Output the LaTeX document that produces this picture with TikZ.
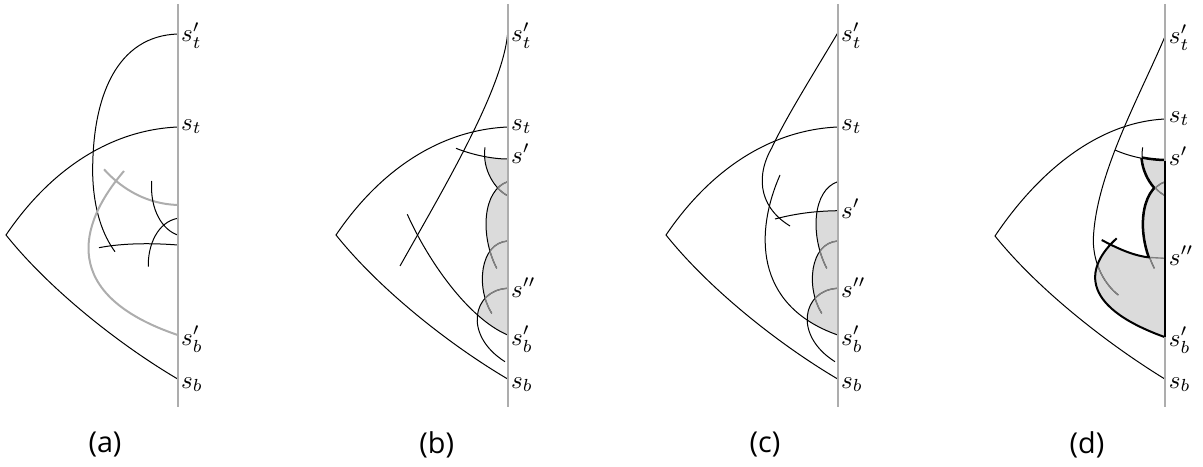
\documentclass[tikz,border=0pt]{standalone}
\usepackage{fontspec}
\newfontfamily\capfont{Open Sans}

% lobes shared by panels (b), (c) and (d), axis at x=0
\newcommand{\lobeA}{(-22.7,147.3) .. controls (-26,170) and (-12,190) .. (0,195.7)}
\newcommand{\lobeB}{(0,181.7) .. controls (-25,190) and (-28,235) .. (-11,268.3)}
\newcommand{\lobeC}{(0,241) .. controls (-28,243) and (-32,288) .. (-16,313.3)}
\newcommand{\lobeD}{(0,288.3) .. controls (-35,290) and (-45,335) .. (-2.7,361.7)}
\newcommand{\lobeAreg}{\lobeA -- (0,147.3) -- cycle}
\newcommand{\lobeBreg}{\lobeB -- (0,268.3) -- cycle}
\newcommand{\lobeCreg}{\lobeC -- (0,313.3) -- cycle}
\newcommand{\lobeDreg}{\lobeD -- (0,361.7) -- cycle}
% zones the shading may use
\newcommand{\bzone}{(-51.7,148.3) .. controls (-35,155) and (-15,159) .. (0,159) -- (0,335) .. controls (-40,318) and (-80,260) .. (-100.4,214.3) -- cycle}
\newcommand{\czone}{(-62.7,219) .. controls (-40,213) and (-20,211) .. (0,210.7) -- (0,335) .. controls (-85,305) and (-82,230) .. (-57.7,175) -- cycle}
\newcommand{\dzone}{(-60,150) -- (-50.3,150) .. controls (-35,157) and (-15,160.7) .. (0,160.7) -- (0,300) -- (-60,300) -- cycle}
\newcommand{\dlow}{(-90,240) -- (-63.6,240) .. controls (-45,250) and (-30,256) .. (-15.6,257.5) .. controls (-8,258.2) .. (0,258.3) -- (0,400) -- (-90,400) -- cycle}
\newcommand{\dcup}{(-48.6,238.3) .. controls (-78,265) and (-90,305) .. (0,337.3)}
\newcommand{\dcupreg}{\dcup -- (0,238.3) -- cycle}
\newcommand{\graypart}[2]{\begin{scope}\clip #1; \draw[inner] #2;\end{scope}}

\begin{document}
\begin{tikzpicture}[
x=0.4pt, y=-0.4pt,
line width=0.4pt,
axis/.style={draw=black!32, line width=0.8pt},
ghost/.style={draw=black!32, line width=0.8pt},
inner/.style={draw=black!50, line width=0.55pt},
shade/.style={fill=black!14},
edge/.style={draw, line width=1.6pt},
bound/.style={draw, line width=0.8pt},
lbl/.style={anchor=base west, inner sep=0pt, xshift=1.2pt},
captext/.style={font=\capfont\fontsize{11.5}{14}\selectfont}
]
\useasboundingbox (0,0) rectangle (1203,466);

% (a)
\begin{scope}[shift={(177.7,0)}]
\coordinate (a-top) at (0,4);
\coordinate (a-bot) at (0,407);
\coordinate (a-stp) at (0,34);
\coordinate (a-st) at (0,127);
\coordinate (a-sbp) at (0,335);
\coordinate (a-sb) at (0,379);
\coordinate (a-tip) at (-171.7,235);

\draw (a-st) .. controls (-67.7,130) and (-127.7,170) .. (a-tip) .. controls (-127.7,290) and (-57.7,345) .. (a-sb);
\draw (a-stp) .. controls (-60,36) and (-86,95) .. (-85,175) .. controls (-84,210) and (-75,235) .. (-62.7,251.7);
\draw[ghost] (-73.7,169.3) .. controls (-55,190) and (-30,204) .. (0,205);
\draw[ghost] (-53.7,171) .. controls (-100,225) and (-118,295) .. (a-sbp);
\draw (-26,181) .. controls (-28,210) and (-15,230) .. (0,235);
\draw (0,218.3) .. controls (-20,222) and (-30,245) .. (-29.4,266.7);
\draw (-78.7,247.7) .. controls (-55,243) and (-25,243) .. (0,245);
\draw[axis] (a-top) -- (a-bot);

\node[lbl] (a-lstp) at (0,42) {$s'_t$};
\node[lbl] (a-lst) at (0,130) {$s_t$};
\node[lbl] (a-lsbp) at (0,345) {$s'_b$};
\node[lbl] (a-lsb) at (0,388) {$s_b$};
\node[captext] (a-cap) at (-72.7,445) {(a)};
\end{scope}

% (b)
\begin{scope}[shift={(507.7,0)}]
\coordinate (b-top) at (0,4);
\coordinate (b-bot) at (0,407);
\coordinate (b-stp) at (0,33);
\coordinate (b-st) at (0,127);
\coordinate (b-s1) at (0,159);
\coordinate (b-sbp) at (0,335);
\coordinate (b-sb) at (0,379);
\coordinate (b-tip) at (-171.7,235);

\begin{scope}
\clip \bzone;
\fill[shade] \lobeAreg;
\fill[shade] \lobeBreg;
\fill[shade] \lobeCreg;
\fill[shade] \lobeDreg;
\end{scope}

\draw (b-st) .. controls (-67.7,130) and (-127.7,170) .. (b-tip) .. controls (-127.7,290) and (-57.7,345) .. (b-sb);
\draw (b-stp) .. controls (-5,90) and (-65,190) .. (-107.7,266);
\draw (-51.7,148.3) .. controls (-35,155) and (-15,159) .. (b-s1);
\draw (-100.4,214.3) .. controls (-80,260) and (-40,318) .. (b-sbp);
\draw \lobeA;
\draw \lobeB;
\draw \lobeC;
\draw \lobeD;

\begin{scope}
\clip \bzone;
\graypart{\lobeBreg}{\lobeA}
\graypart{\lobeAreg}{\lobeB}
\graypart{\lobeCreg}{\lobeB}
\graypart{\lobeBreg}{\lobeC}
\graypart{\lobeDreg}{\lobeC}
\graypart{\lobeCreg}{\lobeD}
\end{scope}
\draw[axis] (b-top) -- (b-bot);

\node[lbl] (b-lstp) at (0,42) {$s'_t$};
\node[lbl] (b-lst) at (0,130) {$s_t$};
\node[lbl] (b-ls1) at (0,163) {$s'$};
\node[lbl] (b-ls2) at (0,297) {$s''$};
\node[lbl] (b-lsbp) at (0,345) {$s'_b$};
\node[lbl] (b-lsb) at (0,388) {$s_b$};
\node[captext] (b-cap) at (-71,445) {(b)};
\end{scope}

% (c)
\begin{scope}[shift={(837.7,0)}]
\coordinate (c-top) at (0,4);
\coordinate (c-bot) at (0,407);
\coordinate (c-stp) at (0,33);
\coordinate (c-st) at (0,127);
\coordinate (c-s1) at (0,210.7);
\coordinate (c-sbp) at (0,335);
\coordinate (c-sb) at (0,379);
\coordinate (c-tip) at (-171.7,235);

\begin{scope}
\clip \czone;
\fill[shade] \lobeBreg;
\fill[shade] \lobeCreg;
\fill[shade] \lobeDreg;
\end{scope}

\draw (c-st) .. controls (-67.7,130) and (-127.7,170) .. (c-tip) .. controls (-127.7,290) and (-57.7,345) .. (c-sb);
\draw (c-stp) .. controls (-25,75) and (-52,118) .. (-66,148) .. controls (-80,172) and (-82,205) .. (-47.7,226);
\draw (-62.7,219) .. controls (-40,213) and (-20,211) .. (c-s1);
\draw (-57.7,175) .. controls (-82,230) and (-85,305) .. (c-sbp);
\draw \lobeB;
\draw \lobeC;
\draw \lobeD;

\begin{scope}
\clip \czone;
\graypart{\lobeCreg}{\lobeB}
\graypart{\lobeBreg}{\lobeC}
\graypart{\lobeDreg}{\lobeC}
\graypart{\lobeCreg}{\lobeD}
\end{scope}
\draw[axis] (c-top) -- (c-bot);

\node[lbl] (c-lstp) at (0,42) {$s'_t$};
\node[lbl] (c-lst) at (0,130) {$s_t$};
\node[lbl] (c-ls1) at (0,218) {$s'$};
\node[lbl] (c-ls2) at (0,297) {$s''$};
\node[lbl] (c-lsbp) at (0,345) {$s'_b$};
\node[lbl] (c-lsb) at (0,388) {$s_b$};
\node[captext] (c-cap) at (-72.7,445) {(c)};
\end{scope}

% (d)
\begin{scope}[shift={(1165.3,0)}]
\coordinate (d-top) at (0,4);
\coordinate (d-bot) at (0,407);
\coordinate (d-stp) at (0,35.7);
\coordinate (d-st) at (0,119);
\coordinate (d-s1) at (0,160.7);
\coordinate (d-s2) at (0,258.3);
\coordinate (d-sbp) at (0,337.3);
\coordinate (d-sb) at (0,379.3);
\coordinate (d-tip) at (-170.3,236);
\coordinate (d-x5) at (-15.6,257.5);

% outline of the upper lobes
\begin{scope}
\clip \dzone;
\draw[edge] \lobeAreg;
\draw[edge] \lobeBreg;
\end{scope}
\begin{scope}
\clip \lobeAreg;
\draw[edge] (-50.3,150) .. controls (-35,157) and (-15,160.7) .. (d-s1);
\end{scope}

\begin{scope}
\clip \dzone;
\fill[shade] \lobeAreg;
\fill[shade] \lobeBreg;
\end{scope}
\begin{scope}
\clip \dlow;
\fill[shade] \dcupreg;
\end{scope}

\draw (d-st) .. controls (-66,122) and (-126,170) .. (d-tip) .. controls (-126,291) and (-56,345) .. (d-sb);
\draw (d-stp) .. controls (-25,95) and (-70,175) .. (-72,240) .. controls (-72,265) and (-60,285) .. (-47,295);
\draw (-50.3,150) .. controls (-35,157) and (-15,160.7) .. (d-s1);
\draw \lobeA;
\draw \lobeB;

\graypart{\lobeAreg}{\lobeB}
\graypart{\lobeBreg}{\lobeA}
\begin{scope}
\clip \dlow;
\clip \dcupreg;
\draw[inner] \lobeB;
\draw[inner] (-72,240) .. controls (-72,265) and (-60,285) .. (-47,295);
\end{scope}
\draw[inner] (d-x5) .. controls (-8,258.2) .. (d-s2);

\draw[bound] (-63.6,240) .. controls (-45,250) and (-30,256) .. (d-x5);
\draw[bound] \dcup;
\draw[axis] (d-top) -- (d-bot);
\draw[bound] (d-s1) -- (d-sbp);

\node[lbl] (d-lstp) at (0,44) {$s'_t$};
\node[lbl] (d-lst) at (0,122) {$s_t$};
\node[lbl] (d-ls1) at (0,165.5) {$s'$};
\node[lbl] (d-ls2) at (0,265) {$s''$};
\node[lbl] (d-lsbp) at (0,346) {$s'_b$};
\node[lbl] (d-lsb) at (0,388) {$s_b$};
\node[captext] (d-cap) at (-78.3,445) {(d)};
\end{scope}
\end{tikzpicture}
\end{document}
